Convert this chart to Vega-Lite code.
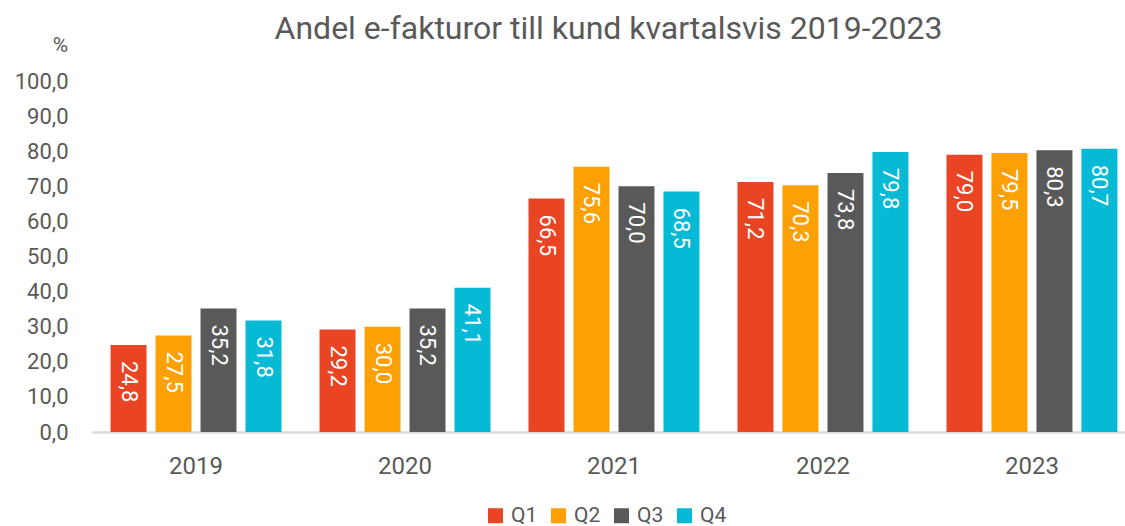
{
  "$schema": "https://vega.github.io/schema/vega-lite/v6.json",
  "autosize": "none",
  "width": 1033,
  "height": 351,
  "padding": {"left": 92, "top": 81, "right": 0, "bottom": 94},
  "background": "white",
  "config": {
    "locale": {"number": {"decimal": ",", "thousands": " ", "grouping": [3], "currency": ["", " kr"]}},
    "font": "Roboto",
    "view": {"stroke": null}
  },
  "title": {
    "text": "Andel e-fakturor till kund kvartalsvis 2019-2023",
    "font": "Roboto",
    "fontSize": 32,
    "fontWeight": "normal",
    "color": "#595959",
    "anchor": "middle",
    "offset": -12
  },
  "data": {
    "values": [
      {"year": "2019", "q": "Q1", "v": 24.8},
      {"year": "2019", "q": "Q2", "v": 27.5},
      {"year": "2019", "q": "Q3", "v": 35.2},
      {"year": "2019", "q": "Q4", "v": 31.8},
      {"year": "2020", "q": "Q1", "v": 29.2},
      {"year": "2020", "q": "Q2", "v": 30.0},
      {"year": "2020", "q": "Q3", "v": 35.2},
      {"year": "2020", "q": "Q4", "v": 41.1},
      {"year": "2021", "q": "Q1", "v": 66.5},
      {"year": "2021", "q": "Q2", "v": 75.6},
      {"year": "2021", "q": "Q3", "v": 70.0},
      {"year": "2021", "q": "Q4", "v": 68.5},
      {"year": "2022", "q": "Q1", "v": 71.2},
      {"year": "2022", "q": "Q2", "v": 70.3},
      {"year": "2022", "q": "Q3", "v": 73.8},
      {"year": "2022", "q": "Q4", "v": 79.8},
      {"year": "2023", "q": "Q1", "v": 79.0},
      {"year": "2023", "q": "Q2", "v": 79.5},
      {"year": "2023", "q": "Q3", "v": 80.3},
      {"year": "2023", "q": "Q4", "v": 80.7}
    ]
  },
  "encoding": {
    "x": {
      "field": "year", "type": "nominal",
      "scale": {"paddingInner": 0.182, "paddingOuter": 0.0625, "align": 0.71},
      "axis": {
        "title": null, "labelAngle": 0, "labelFont": "Roboto", "labelFontSize": 24,
        "labelColor": "#595959", "labelPadding": 22, "ticks": false,
        "domainColor": "#d9d9d9", "domainWidth": 2.5, "grid": false
      }
    },
    "xOffset": {
      "field": "q", "type": "nominal",
      "scale": {"paddingInner": 0.2, "paddingOuter": 0}
    },
    "y": {
      "field": "v", "type": "quantitative",
      "scale": {"domain": [0, 100], "nice": false},
      "axis": {
        "title": "%", "titleAngle": 0, "titleX": -32, "titleY": -26,
        "titleAlign": "center", "titleBaseline": "bottom",
        "titleFont": "Roboto", "titleFontSize": 21, "titleFontWeight": "normal", "titleColor": "#595959",
        "values": [0, 10, 20, 30, 40, 50, 60, 70, 80, 90, 100],
        "format": ".1f", "labelFont": "Roboto", "labelFontSize": 22, "labelColor": "#595959",
        "labelPadding": 24, "ticks": false, "domain": false, "grid": false
      }
    }
  },
  "layer": [
    {
      "mark": {"type": "bar"},
      "encoding": {
        "color": {
          "field": "q", "type": "nominal",
          "scale": {"domain": ["Q1", "Q2", "Q3", "Q4"], "range": ["#E94424", "#FCA004", "#595959", "#06B9D4"]},
          "legend": {
            "title": null, "orient": "none", "direction": "horizontal",
            "legendX": 393, "legendY": 424,
            "symbolType": "square", "symbolSize": 225, "symbolStrokeWidth": 0,
            "labelFont": "Roboto", "labelFontSize": 21, "labelColor": "#595959",
            "columnPadding": 10, "labelOffset": 5
          }
        }
      }
    },
    {
      "mark": {"type": "text", "angle": 90, "align": "left", "baseline": "middle", "dx": 16, "color": "white", "font": "Roboto", "fontSize": 22},
      "encoding": {
        "text": {"field": "v", "type": "quantitative", "format": ".1f"}
      }
    }
  ]
}
